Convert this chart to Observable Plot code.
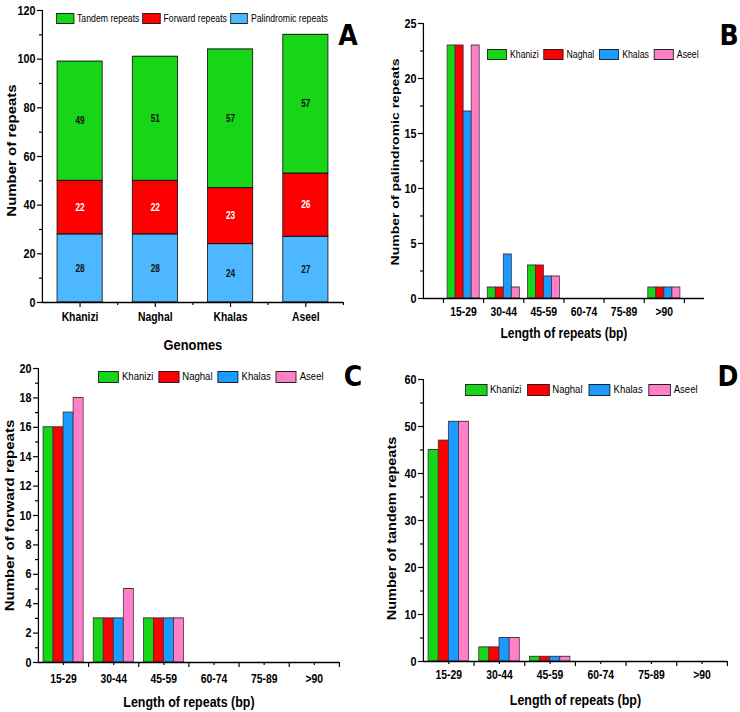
<!DOCTYPE html>
<html><head><meta charset="utf-8">
<script src="https://cdn.jsdelivr.net/npm/d3@7"></script>
<script src="https://cdn.jsdelivr.net/npm/@observablehq/plot@0.6"></script>
<style>
body{margin:0;background:#fff;}
#root{position:relative;width:740px;height:712px;overflow:hidden;background:#fff;}
.legend{position:absolute;display:flex;align-items:center;color:#000;white-space:nowrap;font-family:"Liberation Sans",Arial,sans-serif;line-height:1;transform-origin:0 50%;}
.legend .item{display:flex;align-items:center;}
.legend .sw{display:inline-block;border:1px solid #222;box-sizing:border-box;}
svg.panel{position:absolute;overflow:visible;transform-origin:0 0;}
</style></head><body><div id="root"></div>
<script>
// ---------- data ----------
const genomes = ["Khanizi", "Naghal", "Khalas", "Aseel"];
const repeatTypes = ["Palindromic repeats", "Forward repeats", "Tandem repeats"];
const legendOrderA = ["Tandem repeats", "Forward repeats", "Palindromic repeats"];
const palindromicTotals = [28, 28, 24, 27];
const forwardTotals = [22, 22, 23, 26];
const tandemTotals = [49, 51, 57, 57];
const lengthBins = ["15-29", "30-44", "45-59", "60-74", "75-89", ">90"];
// rows: genome (Khanizi, Naghal, Khalas, Aseel); columns: length bins
const palindromicByLength = [[23, 1, 3, 0, 0, 1], [23, 1, 3, 0, 0, 1], [17, 4, 2, 0, 0, 1], [23, 1, 2, 0, 0, 1]];
const forwardByLength = [[16, 3, 3, 0, 0, 0], [16, 3, 3, 0, 0, 0], [17, 3, 3, 0, 0, 0], [18, 5, 3, 0, 0, 0]];
const tandemByLength = [[45, 3, 1, 0, 0, 0], [47, 3, 1, 0, 0, 0], [51, 5, 1, 0, 0, 0], [51, 5, 1, 0, 0, 0]];
const typeColors = ["#4db8ff", "#ff0000", "#17d617"];
const genomeColors = ["#17d617", "#ff0000", "#1a9bff", "#ff80c6"];

// ---------- helpers ----------
const S = 0.83; // horizontal compression of the original figure
const root = document.getElementById("root");
const FONT = '"Liberation Sans",Arial,sans-serif';
const sx = v => v / S;

function mount(svg, left, top) {
  svg.classList.add("panel");
  svg.style.left = left + "px";
  svg.style.top = top + "px";
  svg.style.transform = `scaleX(${S})`;
  root.appendChild(svg);
}
function legend(names, colors, o) {
  const div = document.createElement("div");
  div.className = "legend";
  div.style.left = o.left + "px";
  div.style.top = o.top + "px";
  div.style.height = o.swH + "px";
  div.style.fontSize = o.fontSize + "px";
  div.style.transform = `scaleX(${S})`;
  names.forEach((n, k) => {
    const it = document.createElement("span");
    it.className = "item";
    it.style.marginRight = (k < names.length - 1 ? sx(o.gap) : 0) + "px";
    const sw = document.createElement("span");
    sw.className = "sw";
    sw.style.width = sx(o.swW) + "px";
    sw.style.height = o.swH + "px";
    sw.style.background = colors[k];
    sw.style.marginRight = sx(o.textGap) + "px";
    const t = document.createElement("span");
    t.textContent = n;
    it.append(sw, t);
    div.appendChild(it);
  });
  root.appendChild(div);
}
const baseStyle = {fontFamily: FONT, fontSize: "12px", fontWeight: "bold", color: "#000", background: "transparent", overflow: "visible"};
const titleOpts = {textAnchor: "middle", lineAnchor: "middle", fontFamily: FONT, fontWeight: "bold", fill: "#000"};

// ---------- Panel A ----------
const stackRows = [];
genomes.forEach((g, i) => {
  let base = 0;
  [palindromicTotals, forwardTotals, tandemTotals].forEach((arr, k) => {
    stackRows.push({i, type: repeatTypes[k], y1: base, y2: base + arr[i], v: arr[i]});
    base += arr[i];
  });
});
const plotA = Plot.plot({
  width: sx(370), height: 360, marginLeft: sx(42), marginRight: sx(27), marginTop: 10, marginBottom: 58,
  style: baseStyle,
  x: {domain: [-0.5, 3.5], axis: null, label: null},
  y: {domain: [0, 120], axis: null, label: null},
  color: {domain: repeatTypes, range: typeColors},
  marks: [
    Plot.rect(stackRows, {x1: d => d.i - 0.3, x2: d => d.i + 0.3, y1: "y1", y2: "y2", fill: "type", stroke: "#111", strokeWidth: 1}),
    Plot.text(stackRows.filter(d => d.type !== "Forward repeats"), {x: "i", y: d => (d.y1 + d.y2) / 2, text: "v", fill: "#111", fontSize: 10, fontWeight: "bold"}),
    Plot.text(stackRows.filter(d => d.type === "Forward repeats"), {x: "i", y: d => (d.y1 + d.y2) / 2, text: "v", fill: "#fff", fontSize: 10, fontWeight: "bold"}),
    Plot.ruleY([0], {stroke: "#000", strokeWidth: 1.3}),
    Plot.ruleX([-0.5], {stroke: "#000", strokeWidth: 1.5}),
    Plot.axisY({ticks: d3.range(0, 121, 20), tickSize: sx(5), tickPadding: sx(2), stroke: "#000", strokeWidth: 1.2, fontSize: 13, fontWeight: "bold", label: null}),
    Plot.axisY({ticks: d3.range(10, 120, 20), tickSize: sx(3), tickFormat: () => "", stroke: "#000", strokeWidth: 1.2, label: null}),
    Plot.axisX({ticks: d3.range(genomes.length), tickSize: 5, tickPadding: 5, tickFormat: i => genomes[i], stroke: "#000", strokeWidth: 1.4, fontSize: 12.5, fontWeight: "bold", label: null}),
    Plot.axisX({ticks: d3.range(genomes.length).map(i => i + 0.5), tickSize: 3, tickFormat: () => "", stroke: "#000", strokeWidth: 1.4, label: null}),
    Plot.text(["Number of repeats"], {...titleOpts, frameAnchor: "left", rotate: -90, dx: sx(-30), dy: -6, fontSize: 15}),
    Plot.text(["Genomes"], {...titleOpts, frameAnchor: "bottom", dy: 43, fontSize: 15.5})
  ]
});
mount(plotA, 0, 0);
legend(legendOrderA, [typeColors[2], typeColors[1], typeColors[0]], {left: 56, top: 13, swW: 18, swH: 11, fontSize: 10.5, gap: 3, textGap: 3});

// ---------- grouped panels ----------
function groupedRows(matrix) {
  const rows = [];
  matrix.forEach((vals, j) => vals.forEach((v, i) => {
    if (v > 0) rows.push({genome: genomes[j], bin: i, j, v});
  }));
  return rows;
}
function groupedPlot(matrix, o) {
  const rows = groupedRows(matrix);
  const [lo, hi] = o.xDomain;
  return Plot.plot({
    width: sx(370), height: o.height, marginLeft: sx(o.ml), marginRight: sx(o.mr), marginTop: o.mt, marginBottom: o.mb,
    style: baseStyle,
    x: {domain: o.xDomain, axis: null, label: null},
    y: {domain: [0, o.yMax], axis: null, label: null},
    color: {domain: genomes, range: genomeColors},
    marks: [
      Plot.rect(rows, {x1: d => d.bin + 0.1 + 0.2 * d.j, x2: d => d.bin + 0.3 + 0.2 * d.j, y1: 0, y2: "v", fill: "genome", stroke: "#3a2a3a", strokeWidth: 0.9}),
      Plot.ruleY([0], {stroke: "#000", strokeWidth: 1.3}),
      Plot.ruleX([lo], {stroke: "#000", strokeWidth: 1.5}),
      Plot.axisY({ticks: d3.range(0, o.yMax + 1e-9, o.yStep), tickSize: sx(5), tickPadding: sx(2), stroke: "#000", strokeWidth: 1.2, fontSize: 13, fontWeight: "bold", label: null}),
      Plot.axisY({ticks: d3.range(o.yStep / 2, o.yMax, o.yStep), tickSize: sx(3), tickFormat: () => "", stroke: "#000", strokeWidth: 1.2, label: null}),
      Plot.axisX({ticks: d3.range(0, lengthBins.length + 1).filter(t => t > lo && t <= hi), tickSize: 5, tickFormat: () => "", stroke: "#000", strokeWidth: 1.4, label: null}),
      Plot.axisX({ticks: d3.range(lengthBins.length).map(i => i + 0.5), tickSize: o.centerTick, tickPadding: o.labelPad, tickFormat: t => lengthBins[Math.floor(t)], stroke: "#000", strokeWidth: 1.4, fontSize: 12.5, fontWeight: "bold", label: null}),
      Plot.text([o.yTitle], {...titleOpts, frameAnchor: "left", rotate: -90, dx: sx(o.yTitleDx), dy: o.yTitleDy, fontSize: o.yTitleSize}),
      Plot.text(["Length of repeats (bp)"], {...titleOpts, frameAnchor: "bottom", dy: o.xTitleDy, fontSize: o.xTitleSize})
    ]
  });
}

const plotB = groupedPlot(palindromicByLength, {height: 360, ml: 53, mr: 36, mt: 23, mb: 62, xDomain: [-0.5, 6.5], yMax: 25, yStep: 5, centerTick: 0, labelPad: 9, yTitle: "Number of palindromic repeats", yTitleDx: -28, yTitleDy: 1, yTitleSize: 14, xTitleDy: 35, xTitleSize: 14.5});
mount(plotB, 370, 0);
legend(genomes, genomeColors, {left: 487, top: 49, swW: 20, swH: 11, fontSize: 10.5, gap: 5, textGap: 3});

const plotC = groupedPlot(forwardByLength, {height: 352, ml: 38, mr: 31, mt: 8, mb: 50, xDomain: [0, 6], yMax: 20, yStep: 2, centerTick: 3, labelPad: 9, yTitle: "Number of forward repeats", yTitleDx: -28, yTitleDy: 0, yTitleSize: 15, xTitleDy: 40, xTitleSize: 15});
mount(plotC, 0, 360);
legend(genomes, genomeColors, {left: 98, top: 371, swW: 21, swH: 12, fontSize: 11.5, gap: 5, textGap: 3});

const plotD = groupedPlot(tandemByLength, {height: 352, ml: 53, mr: 13, mt: 19, mb: 51, xDomain: [0, 6], yMax: 60, yStep: 10, centerTick: 3, labelPad: 6, yTitle: "Number of tandem repeats", yTitleDx: -31, yTitleDy: 8, yTitleSize: 14.5, xTitleDy: 39, xTitleSize: 15});
mount(plotD, 370, 360);
legend(genomes, genomeColors, {left: 465, top: 384, swW: 22, swH: 12, fontSize: 11.5, gap: 6, textGap: 3});

// ---------- panel letters ----------
const ns = "http://www.w3.org/2000/svg";
const over = document.createElementNS(ns, "svg");
over.setAttribute("width", 740); over.setAttribute("height", 712);
over.style.position = "absolute"; over.style.left = "0"; over.style.top = "0"; over.style.pointerEvents = "none";
[["A", 348, 45], ["B", 729, 45], ["C", 353, 386], ["D", 728, 386]].forEach(([t, x, y]) => {
  const el = document.createElementNS(ns, "text");
  el.setAttribute("x", x); el.setAttribute("y", y);
  el.setAttribute("text-anchor", "middle");
  el.setAttribute("font-family", '"DejaVu Sans Condensed","DejaVu Sans",sans-serif');
  el.setAttribute("font-stretch", "condensed");
  el.setAttribute("font-weight", "bold");
  el.setAttribute("font-size", "28");
  el.textContent = t;
  over.appendChild(el);
});
root.appendChild(over);
</script>
</body></html>
